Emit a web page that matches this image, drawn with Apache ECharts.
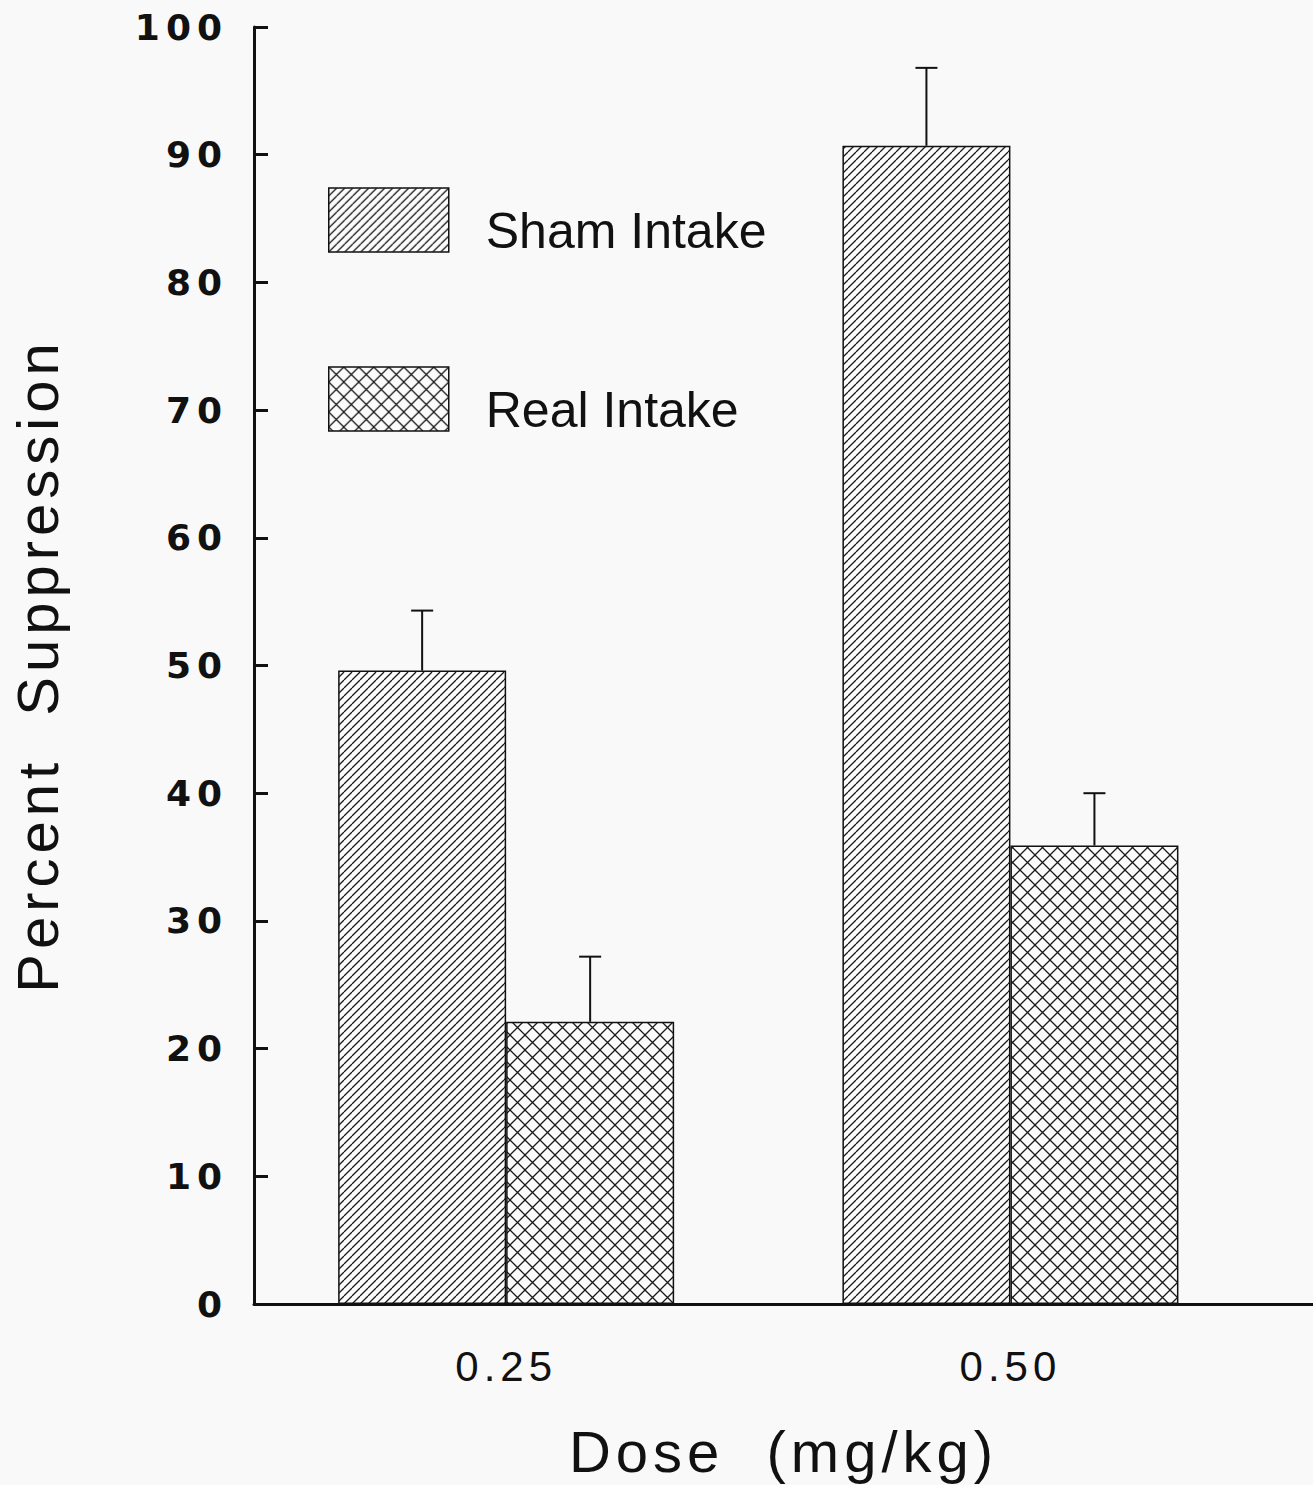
<!DOCTYPE html>
<html>
<head>
<meta charset="utf-8">
<script src="https://cdn.jsdelivr.net/npm/echarts@6/dist/echarts.min.js"></script>
<style>
  html, body { margin: 0; padding: 0; background: #f9f9f9; }
  #chart { width: 1313px; height: 1485px; }
  /* tracking to mimic the wide typesetting of the original */
  #chart text[style*="36px"] { letter-spacing: 6px; }
  #chart text[style*="42px"] { letter-spacing: 5px; }
  #chart text[style*="58px"] { letter-spacing: 5px; }
</style>
</head>
<body>
<div id="chart"></div>
<script>
// ---- data ----
const categories = ['0.25', '0.50'];
const categoryPositions = [0.5, 1.5];
const seriesNames = ['Sham Intake', 'Real Intake'];
const shamValues = [49.6, 90.7];
const shamErrors = [4.7, 6.1];
const realValues = [22.1, 35.9];
const realErrors = [5.1, 4.1];
const yMin = 0, yMax = 100, yInterval = 10;
const xAxisName = 'Dose  (mg/kg)';
const yAxisName = 'Percent  Suppression';

// ---- styles ----
const BAR_WIDTH = 168;
const INK = '#111';

function makeHatch(kind) {
  const s = kind === 'cross' ? 15 : 8;
  const c = document.createElement('canvas');
  c.width = s; c.height = s;
  const ctx = c.getContext('2d');
  ctx.fillStyle = '#fbfbfb';
  ctx.fillRect(0, 0, s, s);
  ctx.strokeStyle = '#1a1a1a';
  ctx.lineWidth = 1.3;
  ctx.beginPath();
  for (let k = -1; k <= 1; k++) {
    ctx.moveTo(k * s, s); ctx.lineTo(k * s + s, 0);
    if (kind === 'cross') { ctx.moveTo(k * s, 0); ctx.lineTo(k * s + s, s); }
  }
  ctx.stroke();
  return { image: c, repeat: 'repeat', imageWidth: s, imageHeight: s };
}

function pairs(vals) { return vals.map((v, i) => [categoryPositions[i], v]); }
function triples(vals, errs) { return vals.map((v, i) => [categoryPositions[i], v, errs[i]]); }

function errorBar(offsetSign) {
  return function (params, api) {
    const x = api.value(0), y = api.value(1), e = api.value(2);
    const p0 = api.coord([x, y]);
    const p1 = api.coord([x, y + e]);
    const cx = p0[0] + offsetSign * BAR_WIDTH / 2;
    const cap = 11;
    const st = { stroke: INK, lineWidth: 2 };
    return {
      type: 'group',
      children: [
        { type: 'line', shape: { x1: cx, y1: p0[1], x2: cx, y2: p1[1] }, style: st },
        { type: 'line', shape: { x1: cx - cap, y1: p1[1], x2: cx + cap, y2: p1[1] }, style: st }
      ]
    };
  };
}

const chart = echarts.init(document.getElementById('chart'), null, { renderer: 'svg', width: 1313, height: 1485 });

const shamPattern = makeHatch('diag');
const realPattern = makeHatch('cross');

chart.setOption({
  backgroundColor: '#f9f9f9',
  animation: false,
  grid: { left: 254, right: 0, top: 27, bottom: 179, containLabel: false },
  legend: {
    orient: 'vertical',
    left: 328,
    top: 184,
    padding: 0,
    itemWidth: 120,
    itemHeight: 64,
    itemGap: 107,
    icon: 'rect',
    data: seriesNames,
    itemStyle: { borderColor: INK, borderWidth: 1.5 },
    formatter: '{n|{name}}',
    textStyle: {
      fontFamily: 'Liberation Sans',
      fontSize: 50,
      color: INK,
      padding: [0, 0, 0, 32],
      rich: {
        n: {
          fontFamily: 'Liberation Sans',
          fontSize: 50,
          lineHeight: 50,
          color: INK,
          padding: [22, 0, 0, 0]
        }
      }
    }
  },
  xAxis: {
    type: 'value',
    min: 0,
    max: 2.1,
    interval: 0.5,
    name: xAxisName,
    nameLocation: 'middle',
    nameGap: 118,
    nameTextStyle: { fontFamily: 'Liberation Sans', fontSize: 58, color: INK },
    splitLine: { show: false },
    axisTick: { show: false },
    axisLine: { show: true, lineStyle: { color: INK, width: 3 } },
    axisLabel: {
      showMinLabel: false,
      showMaxLabel: false,
      margin: 41,
      fontFamily: 'Liberation Sans',
      fontSize: 42,
      color: INK,
      formatter: function (v) {
        const i = categoryPositions.findIndex(p => Math.abs(p - v) < 1e-6);
        return i >= 0 ? categories[i] : '';
      }
    }
  },
  yAxis: {
    type: 'value',
    min: yMin,
    max: yMax,
    interval: yInterval,
    name: yAxisName,
    nameLocation: 'middle',
    nameGap: 188,
    nameTextStyle: { fontFamily: 'Liberation Sans', fontSize: 58, color: INK },
    splitLine: { show: false },
    axisLine: { show: true, lineStyle: { color: INK, width: 3 } },
    axisTick: { show: true, inside: true, length: 14, lineStyle: { color: INK, width: 3 } },
    axisLabel: {
      margin: 26,
      fontFamily: 'DejaVu Sans',
      fontWeight: 'bold',
      fontSize: 36,
      color: INK
    }
  },
  series: [
    {
      name: seriesNames[0],
      type: 'bar',
      data: pairs(shamValues),
      barWidth: BAR_WIDTH,
      barGap: '0%',
      itemStyle: { color: shamPattern, borderColor: INK, borderWidth: 1.5 }
    },
    {
      name: seriesNames[1],
      type: 'bar',
      data: pairs(realValues),
      barWidth: BAR_WIDTH,
      barGap: '0%',
      itemStyle: { color: realPattern, borderColor: INK, borderWidth: 1.5 }
    },
    {
      type: 'custom',
      name: 'shamErr',
      renderItem: errorBar(-1),
      encode: { x: 0, y: 1 },
      data: triples(shamValues, shamErrors),
      z: 5
    },
    {
      type: 'custom',
      name: 'realErr',
      renderItem: errorBar(1),
      encode: { x: 0, y: 1 },
      data: triples(realValues, realErrors),
      z: 5
    }
  ]
});
</script>
</body>
</html>
